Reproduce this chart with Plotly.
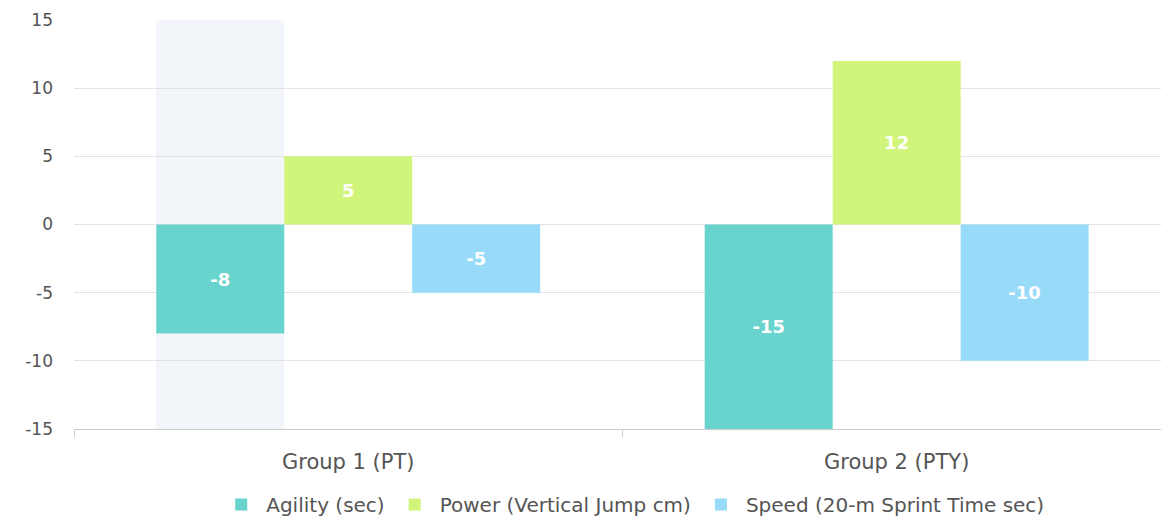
import plotly.graph_objects as go

# Change in performance per training group
groups = ["Group 1 (PT)", "Group 2 (PTY)"]
agility = [-8, -15]
power = [5, 12]
speed = [-5, -10]

series_names = ["Agility (sec)", "Power (Vertical Jump cm)", "Speed (20-m Sprint Time sec)"]
series_values = [agility, power, speed]
series_colors = ["#69d4cd", "#d1f57a", "#97dbf9"]

y_ticks = [-15, -10, -5, 0, 5, 10, 15]
y_min, y_max = -15, 15

BAR_GAP = 0.3
FONT = "DejaVu Sans"

fig = go.Figure()
for name, vals, color in zip(series_names, series_values, series_colors):
    fig.add_trace(go.Bar(
        name=name,
        x=groups,
        y=vals,
        text=[str(v) for v in vals],
        textposition="inside",
        insidetextanchor="middle",
        textangle=0,
        textfont=dict(family=FONT, size=18, color="white", weight="bold"),
        marker=dict(color=color, line=dict(width=0)),
        cliponaxis=False,
    ))

# highlighted band behind the first bar of the first group
n_series = len(series_names)
slot = (1 - BAR_GAP) / n_series
band_x0 = 0 - (1 - BAR_GAP) / 2
fig.add_shape(
    type="rect", xref="x", yref="y",
    x0=band_x0, x1=band_x0 + slot, y0=y_min, y1=y_max,
    fillcolor="#f2f5f9", line=dict(width=0), layer="below",
)

fig.update_layout(
    width=1161, height=517,
    margin=dict(l=74, r=0, t=20, b=88),
    paper_bgcolor="white",
    plot_bgcolor="white",
    barmode="group",
    bargap=BAR_GAP,
    bargroupgap=0,
    font=dict(family=FONT, color="#666666"),
    showlegend=True,
    legend=dict(
        orientation="h",
        xref="container", yref="container",
        x=0.545, xanchor="center",
        y=0.024, yanchor="middle",
        font=dict(family=FONT, size=20, color="#555555"),
        itemwidth=40,
        traceorder="normal",
    ),
    xaxis=dict(
        type="category",
        range=[-0.5, 1.482],
        showgrid=False,
        showline=True,
        linecolor="#cccccc",
        linewidth=1,
        ticks="outside",
        tickson="boundaries",
        ticklen=7,
        tickcolor="#cccccc",
        tickfont=dict(family=FONT, size=21, color="#555555"),
        ticklabelstandoff=14,
    ),
    yaxis=dict(
        range=[y_min, y_max],
        tickvals=y_ticks,
        ticktext=[str(v) for v in y_ticks],
        showgrid=True,
        gridcolor="#e3e3e3",
        gridwidth=1,
        zeroline=True,
        zerolinecolor="#e3e3e3",
        zerolinewidth=1,
        showline=False,
        ticks="",
        tickfont=dict(family=FONT, size=17, color="#555555"),
        ticklabelstandoff=20,
    ),
)

fig.write_html("out.html")
